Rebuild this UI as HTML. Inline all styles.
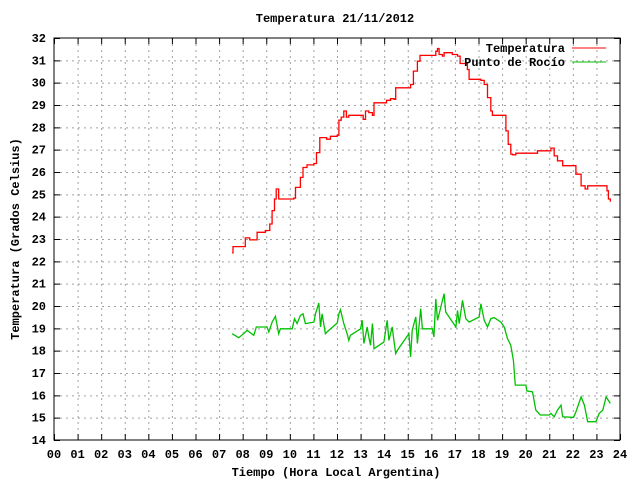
<!DOCTYPE html>
<html><head><meta charset="utf-8"><style>
body{margin:0;background:#fff}
svg text{font-family:"Liberation Mono",monospace;font-size:12px;font-weight:bold;fill:#000}
</style></head><body>
<svg id="chart" width="640" height="480" viewBox="0 0 640 480" xmlns="http://www.w3.org/2000/svg">
<rect width="640" height="480" fill="#fff"/>
<g id="grid"></g>
<g id="ticks"></g>
<text x="335" y="22" text-anchor="middle">Temperatura 21/11/2012</text>
<text x="336" y="476" text-anchor="middle">Tiempo (Hora Local Argentina)</text>
<text transform="translate(19,239) rotate(-90)" text-anchor="middle">Temperatura (Grados Celsius)</text>
<g id="series"></g>
<rect x="54" y="38" width="566" height="402" fill="none" stroke="#000" stroke-width="1"/>
<g>
<text x="565" y="52" text-anchor="end">Temperatura</text>
<line x1="572" y1="48" x2="606" y2="48" stroke="#ff0000"/>
<text x="565" y="66" text-anchor="end">Punto de Rocío</text>
<line x1="572" y1="62" x2="606" y2="62" stroke="#00c000"/>
</g>
</svg>
<script>
const xTicks=["00","01","02","03","04","05","06","07","08","09","10","11","12","13","14","15","16","17","18","19","20","21","22","23","24"];
const yTicks=[14,15,16,17,18,19,20,21,22,23,24,25,26,27,28,29,30,31,32];
const tempHours=[7.55,7.59,8.07,8.11,8.3,8.54,8.61,8.96,9.15,9.25,9.35,9.42,9.53,10.17,10.24,10.45,10.56,10.73,11.02,11.13,11.27,11.56,11.72,12.01,12.08,12.18,12.29,12.4,12.5,13.07,13.11,13.21,13.35,13.5,13.57,14.1,14.27,14.42,14.49,15.01,15.12,15.24,15.41,15.52,16.11,16.19,16.26,16.33,16.47,16.54,16.89,17.11,17.22,17.53,17.6,18.1,18.24,18.38,18.52,18.59,19.06,19.16,19.26,19.37,19.44,19.58,20.48,20.5,21.07,21.21,21.35,21.57,21.99,22.13,22.35,22.52,22.63,23.34,23.45,23.51,23.59];
const tempValues=[22.38,22.66,22.66,23.05,22.96,22.96,23.3,23.38,23.67,24.27,24.79,25.24,24.79,24.83,25.31,25.76,26.2,26.32,26.38,26.87,27.54,27.47,27.6,27.65,28.32,28.46,28.73,28.46,28.54,28.54,28.36,28.73,28.66,28.54,29.1,29.21,29.28,29.25,29.77,29.77,29.92,30.52,30.96,31.22,31.22,31.41,31.53,31.26,31.19,31.34,31.26,31.19,30.86,30.59,30.15,30.1,29.92,29.33,28.73,28.54,28.54,27.84,27.24,26.8,26.77,26.84,26.84,26.95,27.07,26.72,26.5,26.28,26.28,25.9,25.38,25.24,25.38,25.38,25.16,24.79,24.67];
const dewHours=[7.55,7.83,8.04,8.19,8.47,8.58,9.03,9.11,9.25,9.39,9.53,9.6,10.1,10.2,10.31,10.45,10.56,10.66,11.02,11.09,11.23,11.3,11.37,11.51,11.58,12.01,12.08,12.15,12.29,12.43,12.5,12.57,13.0,13.07,13.14,13.28,13.35,13.42,13.5,13.57,13.99,14.13,14.2,14.34,14.42,14.49,14.56,15.05,15.12,15.19,15.34,15.41,15.55,15.62,16.04,16.11,16.19,16.26,16.4,16.54,16.61,17.04,17.11,17.18,17.32,17.46,17.6,18.03,18.1,18.24,18.38,18.52,18.66,18.95,19.09,19.23,19.37,19.48,19.56,20.01,20.05,20.29,20.43,20.62,21.0,21.07,21.21,21.35,21.5,21.57,22.03,22.13,22.35,22.49,22.63,22.98,23.12,23.27,23.41,23.59];
const dewValues=[18.76,18.58,18.76,18.91,18.69,19.06,19.06,18.84,19.28,19.54,18.76,18.98,18.98,19.43,19.21,19.58,19.65,19.21,19.28,19.65,20.13,19.06,19.65,18.76,18.84,19.24,19.65,19.83,19.21,18.76,18.46,18.69,18.98,19.36,18.32,19.06,18.61,18.24,19.21,18.09,18.39,19.36,18.46,19.06,18.39,17.87,18.02,18.76,17.72,18.91,19.51,18.32,19.88,18.98,18.98,18.61,20.32,19.36,19.95,20.55,19.73,19.06,19.8,19.21,20.25,19.43,19.28,19.51,20.1,19.36,19.06,19.43,19.48,19.28,19.06,18.54,18.24,17.57,16.46,16.46,16.2,16.16,15.34,15.12,15.12,15.19,15.04,15.34,15.56,15.04,15.01,15.26,15.93,15.56,14.82,14.82,15.19,15.34,15.93,15.64];

const X0=54,X1=620,Y0=440,Y1=38;
function xs(h){return X0+(h/24)*(X1-X0);}
function ys(v){return Y0-(v-14)/18*(Y0-Y1);}
const NS="http://www.w3.org/2000/svg";
const grid=document.getElementById('grid'),ticks=document.getElementById('ticks'),svg=document.getElementById('chart'),series=document.getElementById('series');
function mk(tag,attrs,parent){const e=document.createElementNS(NS,tag);for(const k in attrs)e.setAttribute(k,attrs[k]);parent.appendChild(e);return e;}
xTicks.forEach((t,i)=>{
  const x=xs(i)+0.5;
  if(i>0&&i<24){const g=mk('line',{x1:x,y1:Y1,x2:x,y2:Y0,stroke:'#a0a0a0','stroke-dasharray':'2,4'},grid);
  
  }
  const a=mk('path',{d:`M${x},${Y0}v-6M${x},${Y1}v6`,stroke:'#000'},ticks);
  
  
  const l=mk('text',{x:xs(i),y:458,'text-anchor':'middle'},svg);l.textContent=t;
  
  
});
yTicks.forEach(v=>{
  const y=ys(v)+0.5;
  if(v>14&&v<32){const g=mk('line',{x1:X0,y1:y,x2:X1,y2:y,stroke:'#a0a0a0','stroke-dasharray':'2,4'},grid);
  
  }
  const a=mk('path',{d:`M${X0},${y}h6M${X1},${y}h-6`,stroke:'#000'},ticks);
  
  
  const l=mk('text',{x:46,y:ys(v)+4,'text-anchor':'end'},svg);l.textContent=v;
  
  
});
let d='';
tempHours.forEach((h,i)=>{const x=xs(h).toFixed(1),y=ys(tempValues[i]).toFixed(1);
  if(i===0)d+=`M${x},${y}`;else d+=`H${x}V${y}`;});
const tp=mk('path',{d:d,fill:'none',stroke:'#ff0000','stroke-width':1.3},series);


let d2='';
dewHours.forEach((h,i)=>{d2+=(i?'L':'M')+xs(h).toFixed(1)+','+ys(dewValues[i]).toFixed(1);});
const dp=mk('path',{d:d2,fill:'none',stroke:'#00c000','stroke-width':1.3},series);


</script>
</body></html>
